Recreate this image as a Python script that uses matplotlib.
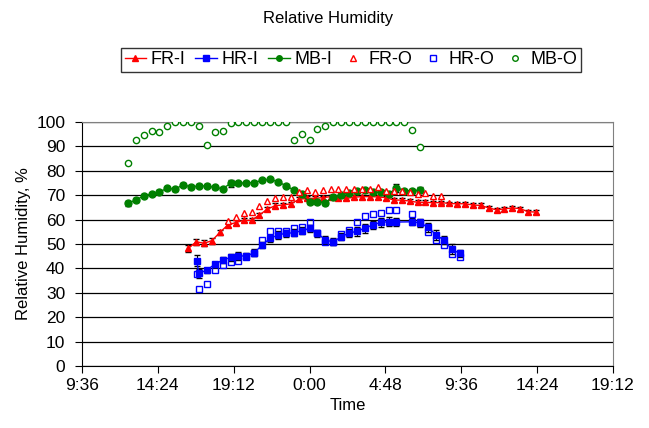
import numpy as np
import matplotlib.pyplot as plt
from matplotlib.lines import Line2D

plt.rcParams['font.family'] = ['Liberation Sans', 'DejaVu Sans']

# times in hours from midnight of the first day
mb_time = np.arange(12.5, 31.01, 0.5)
fr_i_time = np.arange(16.33, 38.4, 0.5)
fr_o_time = fr_i_time[5:33]
hr_time = [16.85, 17.0, 17.5, 18.0, 18.5, 19.0, 19.5, 20.0, 20.5, 21.0, 21.5, 22.0,
           22.5, 23.0, 23.5, 24.0, 24.5, 25.0, 25.5, 26.0, 26.5, 27.0, 27.5, 28.0,
           28.5, 29.0, 29.5, 30.5, 31.0, 31.5, 32.0, 32.5, 33.0, 33.5]

fr_i = [48.2, 50.9, 50.3, 51.4, 54.8, 57.8, 58.8, 59.7, 59.7, 61.9, 64.3, 65.7, 66.0,
        66.5, 68.3, 68.7, 68.7, 69.0, 69.4, 69.0, 68.7, 69.2, 69.4, 69.4, 69.3, 69.0,
        68.0, 68.0, 67.6, 67.1, 67.1, 66.9, 67.0, 66.6, 66.5, 66.5, 66.0, 65.8, 64.8,
        64.0, 64.4, 64.8, 64.5, 63.2, 63.1]
fr_i_err = [1.3, 1.2, 1.3, 1.2, 1.0, 1.0, 1.0, 0.8, 0.8, 0.8, 0.8, 0.9, 0.8, 0.8, 0.8,
            0.8, 0.8, 0.8, 0.8, 0.8, 0.8, 0.8, 0.8, 0.8, 0.8, 0.8, 0.8, 0.8, 0.8, 0.8,
            0.8, 0.8, 0.8, 0.8, 0.8, 0.8, 0.8, 0.8, 0.8, 0.8, 0.8, 0.8, 0.8, 0.8, 0.8]
hr_i = [43.2, 38.0, 39.3, 41.7, 43.4, 44.5, 45.1, 45.1, 46.4, 49.6, 52.3, 53.7, 54.4,
        54.6, 55.4, 56.4, 54.4, 51.6, 50.9, 53.0, 54.5, 55.2, 56.5, 57.8, 58.9, 59.1,
        59.0, 59.1, 58.6, 56.8, 53.8, 51.6, 47.8, 46.2]
hr_i_err = [2.3, 1.8, 1.0, 1.0, 1.2, 1.5, 1.5, 1.3, 1.5, 1.2, 1.5, 1.5, 1.5, 1.5, 1.5,
            1.5, 1.5, 1.5, 1.5, 1.5, 1.8, 1.8, 1.8, 1.8, 1.8, 1.8, 1.8, 1.5, 1.5, 1.8,
            2.0, 1.8, 2.0, 1.5]
mb_i = [66.7, 68.0, 69.7, 70.5, 71.4, 72.8, 72.5, 74.3, 73.4, 73.8, 73.8, 73.2, 72.7,
        74.8, 74.9, 75.1, 75.2, 76.1, 76.5, 75.5, 73.9, 72.1, 70.3, 67.1, 67.3, 66.9,
        69.2, 70.2, 71.0, 71.8, 72.1, 71.2, 71.2, 70.3, 73.1, 71.9, 71.8, 72.1]
mb_i_err = [1.0, 0.8, 0.6, 0.6, 0.6, 0.6, 0.6, 0.6, 0.6, 0.6, 0.6, 0.6, 0.6, 1.5, 0.6,
            0.6, 0.6, 0.6, 0.6, 0.6, 0.6, 0.6, 0.6, 0.8, 0.8, 0.8, 0.6, 0.6, 0.6, 0.6,
            0.6, 0.6, 0.6, 0.8, 1.6, 0.8, 0.8, 1.3]
fr_o = [59.5, 61.2, 62.6, 63.1, 65.7, 67.6, 68.7, 69.4, 69.4, 71.4, 72.1, 71.2, 72.1,
        72.5, 72.5, 72.5, 72.5, 72.5, 72.5, 73.2, 71.8, 71.8, 71.8, 71.2, 70.5, 70.8,
        69.8, 69.8]
hr_o = [37.6, 31.4, 33.6, 39.3, 41.2, 42.7, 43.2, 44.5, 46.4, 51.7, 55.2, 55.2, 55.5,
        56.7, 57.1, 59.1, 54.4, 50.8, 50.8, 54.0, 55.8, 59.1, 61.3, 62.2, 62.6, 64.0,
        64.0, 62.2, 59.2, 55.1, 51.6, 49.4, 45.9, 44.8]
mb_o = [83.0, 92.7, 94.7, 96.2, 96.0, 98.2, 100, 100, 100, 98.2, 90.7, 96.0, 96.4, 99.6,
        100, 100, 100, 100, 100, 100, 100, 92.6, 95.0, 92.6, 97.1, 98.4, 100, 100, 100,
        100, 100, 100, 100, 100, 100, 100, 96.9, 89.8]

x_ticks = [9.6, 14.4, 19.2, 24.0, 28.8, 33.6, 38.4, 43.2]
x_labels = ['9:36', '14:24', '19:12', '0:00', '4:48', '9:36', '14:24', '19:12']

fig = plt.figure(figsize=(6.49, 4.28), dpi=100)
ax = fig.add_axes([82 / 649, 1 - 366 / 428, (613 - 82) / 649, (366 - 122) / 428])

ax.errorbar(fr_i_time, fr_i, yerr=fr_i_err, color='red', marker='^', ms=5, lw=1,
            ecolor='black', elinewidth=0.8, capsize=2.5, zorder=3)
ax.errorbar(hr_time, hr_i, yerr=hr_i_err, color='blue', marker='s', ms=5, lw=1,
            ecolor='black', elinewidth=0.8, capsize=2.5, zorder=3)
ax.errorbar(mb_time, mb_i, yerr=mb_i_err, color='green', marker='o', ms=5, lw=1,
            ecolor='black', elinewidth=0.8, capsize=2.5, zorder=3)
ax.plot(fr_o_time, fr_o, ls='none', marker='^', ms=5, mfc='white', mec='red',
        mew=1, zorder=4)
ax.plot(hr_time, hr_o, ls='none', marker='s', ms=5, mfc='none', mec='blue',
        mew=1, zorder=4)
ax.plot(mb_time, mb_o, ls='none', marker='o', ms=4.5, mfc='white', mec='green',
        mew=1, zorder=4)

ax.set_xlim(9.6, 43.2)
ax.set_ylim(0, 100)
ax.set_xticks(x_ticks)
ax.set_xticklabels(x_labels)
ax.set_yticks(range(0, 101, 10))
ax.tick_params(labelsize=12.5, direction='out', length=5)
ax.tick_params(axis='y', pad=7)
ax.yaxis.grid(True, color='black', lw=0.9)
ax.set_axisbelow(True)
for s in ['top', 'right']:
    ax.spines[s].set_color('#808080')

ax.set_xlabel('Time', fontsize=12)
ax.set_ylabel('Relative Humidity, %', fontsize=12)
fig.text(0.505, 1 - 18 / 428, 'Relative Humidity', ha='center', va='center', fontsize=12)

handles = [
    Line2D([], [], color='red', marker='^', ms=4, lw=1),
    Line2D([], [], color='blue', marker='s', ms=4, lw=1),
    Line2D([], [], color='green', marker='o', ms=4, lw=1),
    Line2D([], [], ls='none', marker='^', ms=4, mfc='white', mec='red'),
    Line2D([], [], ls='none', marker='s', ms=4, mfc='white', mec='blue'),
    Line2D([], [], ls='none', marker='o', ms=4, mfc='white', mec='green'),
]
labels = ['FR-I', 'HR-I', 'MB-I', 'FR-O', 'HR-O', 'MB-O']
fig.legend(handles, labels, ncol=6, loc='center', bbox_to_anchor=(351 / 649, 1 - 60 / 428),
           frameon=True, fancybox=False, edgecolor='black', fontsize=13,
           handlelength=1.2, handletextpad=0.25, columnspacing=0.55, borderpad=0.2,
           borderaxespad=0)

fig.savefig('out.png', dpi=100)
